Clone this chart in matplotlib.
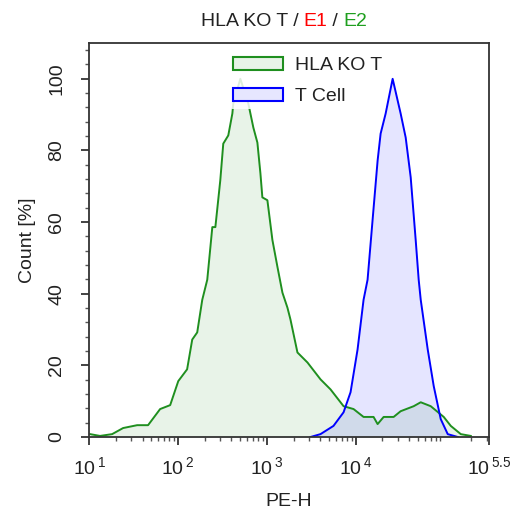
import matplotlib
matplotlib.use("Agg")
import matplotlib.pyplot as plt
from matplotlib.patches import Rectangle
from matplotlib.ticker import FixedLocator, LogLocator, MultipleLocator, NullFormatter
import numpy as np

plt.rcParams['font.family'] = ['Liberation Sans', 'DejaVu Sans']
plt.rcParams['mathtext.fontset'] = 'custom'
plt.rcParams['mathtext.rm'] = 'Liberation Sans'

# HLA KO T histogram (PE-H, count %)
ko_x = [10.3, 13.3, 18.2, 24.2, 34.8, 46.2, 63.1, 81.9, 101, 127, 145, 165, 188, 214,
        244, 264, 300, 324, 369, 410, 420, 504, 620, 706, 784, 848, 892, 1016, 1157,
        1318, 1500, 1708, 1847, 2213, 2870, 4020, 5210, 7310, 9470, 12270, 15900,
        17660, 20640, 26740, 32070, 44970, 53950, 69890, 97900, 117500, 152300, 197400]
ko_y = [0.8, 0.3, 0.8, 2.5, 3.3, 3.3, 7.8, 8.9, 15.6, 18.9, 27.2, 29.2, 38.3, 43.9,
        58.6, 58.6, 71.7, 81.9, 84.2, 90.3, 93.1, 100, 93.1, 86.4, 82.2, 73.6, 66.9,
        66.1, 55.0, 47.5, 40.3, 36.1, 32.8, 23.6, 20.8, 16.1, 13.3, 8.6, 7.8, 5.6, 5.6,
        3.6, 5.6, 5.6, 7.2, 8.6, 9.7, 8.6, 5.6, 3.1, 0.8, 0.3]

# T Cell histogram
tc_x = [3105, 4020, 5630, 7310, 8760, 10500, 12270, 13610, 15500, 17660, 19090, 21740,
        26060, 32070, 36540, 41600, 47340, 51170, 53950, 64700, 75560, 90550, 108600, 140900]
tc_y = [0, 0.8, 3.1, 6.9, 12.5, 24.4, 38.3, 43.9, 60.6, 77.2, 84.7, 90.3,
        100, 90.3, 83.6, 72.5, 55.0, 43.9, 38.3, 24.4, 14.2, 5.0, 0.8, 0]

xticks = [1e1, 1e2, 1e3, 1e4, 10 ** 5.5]
xtick_labels = [r'$\mathrm{10}^{\,\mathrm{1}}$', r'$\mathrm{10}^{\,\mathrm{2}}$',
                r'$\mathrm{10}^{\,\mathrm{3}}$', r'$\mathrm{10}^{\,\mathrm{4}}$',
                r'$\mathrm{10}^{\,\mathrm{5.5}}$']
yticks = [0, 20, 40, 60, 80, 100]

green = '#1f8f1f'
blue = '#0000ff'
dark = '#222222'
fs = 14

fig = plt.figure(figsize=(5.14, 5.17), dpi=100)
ax = fig.add_axes([89 / 514, 80 / 517, 400 / 514, 394 / 517])

ax.fill_between(ko_x, ko_y, color=green, alpha=0.1, lw=0)
ax.fill_between(tc_x, tc_y, color=blue, alpha=0.1, lw=0)
ax.plot(ko_x, ko_y, color=green, lw=1.4)
ax.plot(tc_x, tc_y, color=blue, lw=1.4)

ax.set_xscale('log')
ax.set_xlim(10, 10 ** 5.5)
ax.set_ylim(0, 110)
ax.xaxis.set_major_locator(FixedLocator(xticks))
ax.set_xticklabels(xtick_labels)
ax.xaxis.set_minor_locator(LogLocator(base=10, subs=np.arange(2, 10)))
ax.xaxis.set_minor_formatter(NullFormatter())
ax.set_yticks(yticks)
ax.yaxis.set_minor_locator(MultipleLocator(4))
for lab in ax.get_yticklabels():
    lab.set_rotation(90)
    lab.set_va('center')
ax.tick_params(which='major', length=6, width=1.2, labelsize=fs, colors=dark)
ax.tick_params(axis='x', which='major', pad=8)
ax.tick_params(axis='y', which='major', pad=11)
ax.tick_params(which='minor', length=3, width=1, colors='#555555')
for s in ax.spines.values():
    s.set_color('#333333')
    s.set_linewidth(1.3)

ax.set_xlabel('PE-H', fontsize=fs, color=dark, labelpad=10)
ax.set_ylabel('Count [%]', fontsize=fs, color=dark, labelpad=9)

handles = [Rectangle((0, 0), 1, 1, facecolor='#e8f3e8', edgecolor=green, lw=1.5),
           Rectangle((0, 0), 1, 1, facecolor='#e6e6ff', edgecolor=blue, lw=1.5)]
leg = ax.legend(handles, ['HLA KO T', 'T Cell'], loc='upper left',
                bbox_to_anchor=(0.325, 1.0), fontsize=fs, frameon=True,
                handlelength=2.6, handleheight=0.65, labelspacing=0.7,
                handletextpad=0.6, borderpad=0.2, framealpha=0.85)
leg.get_frame().set_edgecolor('none')
for t in leg.get_texts():
    t.set_color(dark)

# multi-coloured title
pieces = [('HLA KO T / ', dark), ('E1', '#ff0000'), (' / ', dark), ('E2', '#1f9f1f')]
fig.canvas.draw()
r = fig.canvas.get_renderer()
texts = []
for s, c in pieces:
    texts.append(fig.text(0, 0, s, fontsize=fs, color=c))
widths = [t.get_window_extent(r).width for t in texts]
x0 = (89 + 489) / 2 - sum(widths) / 2 - 5
for t, w in zip(texts, widths):
    t.set_position((x0 / 514, (517 - 26) / 517))
    x0 += w

fig.savefig('out.png', dpi=100)
